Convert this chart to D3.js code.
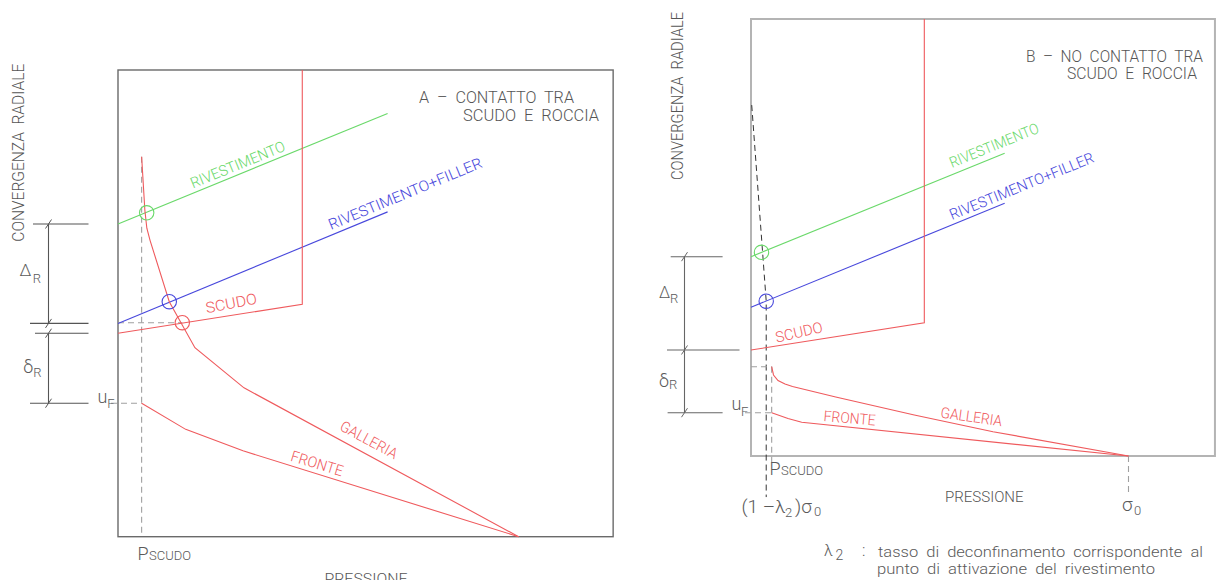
<!DOCTYPE html>
<html>
<head>
<meta charset="utf-8">
<script src="https://cdn.jsdelivr.net/npm/d3@7"></script>
<style>
  body { margin: 0; background: #fff; }
  svg text { font-family: Roboto, "Liberation Sans", Arial, sans-serif; font-weight: 300; fill: #5a5a5a; white-space: pre; }
</style>
</head>
<body>
<script>
// pressione: sigma0 = 100 ; convergenza: 0 = asse pressioni, 100 = bordo superiore del riquadro

// --- A: contatto tra scudo e roccia
var galleriaA = [[5.9, 81.4], [6.7, 70.0], [7.2, 66.1], [8.0, 63.5], [12.8, 50.35], [19.2, 40.5], [31.45, 31.9], [100, 0]];
var fronteA = [[5.9, 28.6], [16.9, 23.0], [31.2, 18.4], [100, 0]];
var scudoA = [[0, 43.6], [46.0, 49.8], [46.0, 100]];
var rivestA = [[0, 67.0], [67.3, 90.7]];
var rivestFillerA = [[0, 45.7], [67.3, 69.6]];
var puntiA = [[7.16, 69.4], [12.8, 50.35], [16.05, 45.85]]; // rivest., rivest.+filler, scudo
var pScudoA = 5.9, uFA = 28.6;

// --- B: no contatto tra scudo e roccia
var galleriaB = [[5.48, 20.43], [5.96, 18.54], [7.15, 17.28], [9.01, 16.48], [10.99, 15.9], [22.44, 13.5], [43.26, 9.38], [64.11, 5.56], [100, 0]];
var fronteB = [[5.48, 9.91], [9.8, 8.58], [13.43, 7.71], [100, 0]];
var scudoB = [[0, 24.26], [45.91, 30.5], [45.91, 100]];
var rivestB = [[0, 45.61], [67.2, 69.27]];
var rivestFillerB = [[0, 34.03], [67.2, 57.83]];
var puntiB = [[2.78, 46.61], [4.03, 35.42]];
var lambdaB = [[0.19, 80.3], [4.03, 35.42], [4.03, -9.4]]; // (1-lambda2) sigma0
var pScudoB = 5.48, uFB = 9.91, sigma0 = 100;

var RED = "#ef5a5d", GREEN = "#6ad96a", BLUE = "#4848dc", INK = "#555", DASH = "#a0a0a0";

var svg = d3.select("body").append("svg").attr("width", 1216).attr("height", 580);

var panelA = {
  x: d3.scaleLinear().domain([0, 100]).range([118, 518.6]),
  y: d3.scaleLinear().domain([0, 100]).range([536.7, 70]),
  xMax: 123.6, frame: "#6a6a6a", frameW: 1.4
};
var panelB = {
  x: d3.scaleLinear().domain([0, 100]).range([751, 1128.5]),
  y: d3.scaleLinear().domain([0, 100]).range([456, 19]),
  xMax: 122.9, frame: "#b4b4b4", frameW: 2
};

function frame(p) {
  svg.append("rect")
    .attr("x", p.x(0)).attr("y", p.y(100))
    .attr("width", p.x(p.xMax) - p.x(0)).attr("height", p.y(0) - p.y(100))
    .attr("fill", "none").attr("stroke", p.frame).attr("stroke-width", p.frameW);
}

function curve(p, pts, color, dash, w) {
  var line = d3.line().x(function(d) { return p.x(d[0]); }).y(function(d) { return p.y(d[1]); });
  svg.append("path").datum(pts)
    .attr("d", line).attr("fill", "none")
    .attr("stroke", color).attr("stroke-width", w || 1.1)
    .attr("stroke-dasharray", dash || null);
}

function circle(p, d, color) {
  svg.append("circle").attr("cx", p.x(d[0])).attr("cy", p.y(d[1])).attr("r", 7.2)
    .attr("fill", "none").attr("stroke", color).attr("stroke-width", 1.1);
}

function label(t, px, py, ang, len, color, size) {
  svg.append("text")
    .attr("transform", "translate(" + px + "," + py + ") rotate(" + ang + ")")
    .attr("textLength", len).attr("lengthAdjust", "spacingAndGlyphs")
    .style("font-size", size + "px").style("fill", color)
    .text(t);
}

// symbol with subscript, e.g. u_F
function subLabel(main, sub, px, py, size, subX, subY, subSize) {
  var t = svg.append("text").style("font-size", size + "px");
  t.append("tspan").attr("x", px).attr("y", py).text(main);
  t.append("tspan").attr("x", subX).attr("y", subY).style("font-size", subSize + "px").text(sub);
}

// dimension chain on the left of the frame
function dims(p, levels, xDim, ext, color) {
  levels.forEach(function(l) {
    var yy = p.y(l.v);
    svg.append("line").attr("x1", l.x1).attr("x2", l.x2).attr("y1", yy).attr("y2", yy)
      .attr("stroke", color).attr("stroke-width", 1.1);
    svg.append("line").attr("x1", xDim - 3).attr("x2", xDim + 3).attr("y1", yy + 4.5).attr("y2", yy - 4.5)
      .attr("stroke", color).attr("stroke-width", 1);
  });
  ext.forEach(function(s) {
    svg.append("line").attr("x1", xDim).attr("x2", xDim).attr("y1", p.y(s[0])).attr("y2", p.y(s[1]))
      .attr("stroke", color).attr("stroke-width", 1.1);
  });
}

// ================= panel A =================
(function() {
  var p = panelA;
  frame(p);
  var dash = "6,4";
  curve(p, [[pScudoA, galleriaA[0][1]], [pScudoA, 0]], DASH, dash);
  curve(p, [[0, puntiA[2][1]], [puntiA[2][0], puntiA[2][1]]], DASH, dash);
  curve(p, [[-1.75, uFA], [pScudoA, uFA]], DASH, dash);
  curve(p, rivestA, GREEN);
  curve(p, rivestFillerA, BLUE);
  curve(p, scudoA, RED);
  curve(p, galleriaA, RED);
  curve(p, fronteA, RED);
  circle(p, puntiA[0], GREEN);
  circle(p, puntiA[1], BLUE);
  circle(p, puntiA[2], RED);

  dims(p, [
    { v: rivestA[0][1], x1: 33, x2: 88.5 },
    { v: rivestFillerA[0][1], x1: 30, x2: 88.5 },
    { v: scudoA[0][1], x1: 35, x2: 88.5 },
    { v: uFA, x1: 30, x2: 88.5 }
  ], 48.5, [[rivestA[0][1], rivestFillerA[0][1]], [scudoA[0][1], uFA]], "#555");

  label("RIVESTIMENTO", 193, 188.5, -22.3, 101, GREEN, 15);
  label("RIVESTIMENTO+FILLER", 331, 230, -22.5, 165, BLUE, 15);
  label("SCUDO", 206.7, 313.3, -11, 52, RED, 15);
  label("GALLERIA", 338.7, 429.5, 28.3, 63, RED, 15);
  label("FRONTE", 289.7, 460.5, 17, 54, RED, 15);

  label("A  \u2013  CONTATTO  TRA", 419, 103.3, 0, 155, INK, 16);
  label("SCUDO  E  ROCCIA", 463, 120.7, 0, 136, INK, 16);
  label("CONVERGENZA  RADIALE", 23.7, 241.7, -90, 178, INK, 17);
  label("PRESSIONE", 324.5, 584, 0, 83, INK, 14);

  subLabel("\u0394", "R", 19.5, 276, 17, 32.7, 283.3, 13);
  subLabel("\u03b4", "R", 23.3, 373, 18, 33.3, 376.5, 13);
  subLabel("u", "F", 97.5, 403, 18, 107.3, 408.3, 13);
  subLabel("P", "SCUDO", 137.5, 560, 18, 149, 560, 13);
})();

// ================= panel B =================
(function() {
  var p = panelB;
  frame(p);
  var dash = "6,4";
  curve(p, lambdaB, "#333", "6,4", 1);
  curve(p, [[pScudoB, galleriaB[0][1]], [pScudoB, -1.6]], DASH, dash);
  curve(p, [[0, galleriaB[0][1]], [pScudoB, galleriaB[0][1]]], DASH, dash);
  curve(p, [[-1.6, uFB], [pScudoB, uFB]], DASH, dash);
  curve(p, [[sigma0, 0], [sigma0, -8.9]], DASH, dash);
  curve(p, rivestB, GREEN);
  curve(p, rivestFillerB, BLUE);
  curve(p, scudoB, RED);
  curve(p, galleriaB, RED);
  curve(p, fronteB, RED);
  circle(p, puntiB[0], GREEN);
  circle(p, puntiB[1], BLUE);

  dims(p, [
    { v: rivestB[0][1], x1: 670.7, x2: 722.6 },
    { v: scudoB[0][1], x1: 667, x2: 739.5 },
    { v: uFB, x1: 667.6, x2: 722.6 }
  ], 684.5, [[rivestB[0][1], uFB]], "#666");

  label("RIVESTIMENTO", 952, 168, -22.1, 95, GREEN, 15);
  label("RIVESTIMENTO+FILLER", 952, 220, -22.2, 154.5, BLUE, 15);
  label("SCUDO", 776.7, 342.7, -13, 48, RED, 15);
  label("GALLERIA", 940, 417.5, 8, 62, RED, 15);
  label("FRONTE", 823.3, 421, 5, 52, RED, 15);

  label("B  \u2013  NO  CONTATTO  TRA", 1026, 62.3, 0, 177, INK, 16);
  label("SCUDO  E  ROCCIA", 1067, 79, 0, 130, INK, 16);
  label("CONVERGENZA  RADIALE", 682.5, 180, -90, 168, INK, 17);
  label("PRESSIONE", 945, 501.7, 0, 78.6, INK, 14);

  subLabel("\u0394", "R", 659, 298.3, 16, 670, 303.3, 13);
  subLabel("\u03b4", "R", 659, 386.7, 18, 669, 389, 13);
  subLabel("u", "F", 731.5, 410, 18, 741, 415.5, 13);
  subLabel("P", "SCUDO", 769.5, 475, 18, 781, 475, 13);

  // (1 - lambda2) sigma0
  var t = svg.append("text").style("font-size", "19px");
  t.append("tspan").attr("x", 741.5).attr("y", 513).text("(1 \u2013\u03bb");
  t.append("tspan").attr("x", 785).attr("y", 517).style("font-size", "13px").text("2");
  t.append("tspan").attr("x", 795).attr("y", 513).text(")\u03c3");
  t.append("tspan").attr("x", 814).attr("y", 516).style("font-size", "13px").text("0");
  var s = svg.append("text").style("font-size", "19px");
  s.append("tspan").attr("x", 1122).attr("y", 511).text("\u03c3");
  s.append("tspan").attr("x", 1134).attr("y", 515).style("font-size", "13px").text("0");

  // legenda lambda2
  var f = svg.append("text").style("font-size", "16px");
  f.append("tspan").attr("x", 824).attr("y", 556).text("\u03bb");
  f.append("tspan").attr("x", 835.5).attr("y", 560).style("font-size", "14px").text("2");
  f.append("tspan").attr("x", 862).attr("y", 556).text(":");
  svg.append("text").attr("x", 878).attr("y", 556.5)
    .attr("textLength", 325).attr("lengthAdjust", "spacingAndGlyphs")
    .style("font-size", "14px")
    .text("tasso  di  deconfinamento  corrispondente  al");
  svg.append("text").attr("x", 877).attr("y", 573.5)
    .attr("textLength", 278).attr("lengthAdjust", "spacingAndGlyphs")
    .style("font-size", "14px")
    .text("punto  di  attivazione  del  rivestimento");
})();
</script>
</body>
</html>
